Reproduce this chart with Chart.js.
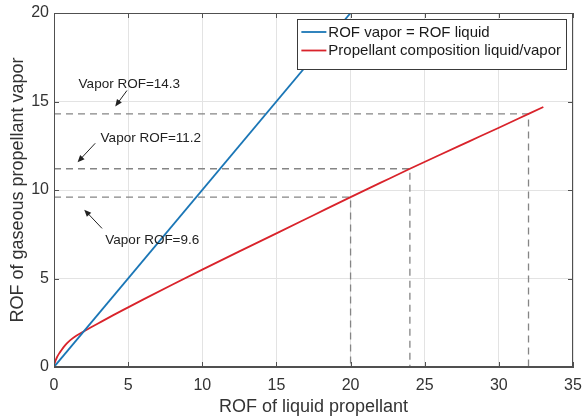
<!DOCTYPE html>
<html>
<head>
<meta charset="utf-8">
<title>ROF liquid vs vapor</title>
<script src="https://cdn.jsdelivr.net/npm/chart.js@4.4.1/dist/chart.umd.min.js"></script>
<style>
  html, body { margin: 0; padding: 0; background: #fff; }
  #rofChart { display: block; }
</style>
</head>
<body>
<canvas id="rofChart" width="582" height="420"></canvas>
<script>
// --- data ---
const equalLiquid = [0, 20];
const equalVapor = [0, 20];

const compLiquid = [0, 0.05, 0.1, 0.2, 0.35, 0.5, 0.65, 0.85, 1.1, 1.5, 2, 2.5, 3, 4, 5, 6, 8, 10, 12.5, 15, 17.5, 20, 22, 24, 26, 28, 30, 32, 33];
const compVapor  = [0, 0.22, 0.35, 0.55, 0.77, 0.95, 1.12, 1.32, 1.52, 1.77, 2.01, 2.245, 2.475, 2.93, 3.37, 3.805, 4.66, 5.5, 6.53, 7.55, 8.575, 9.6, 10.4, 11.2, 11.98, 12.75, 13.52, 14.3, 14.69];

// operating points picked off the red curve
const markedLiquid = [20, 24, 32];
const markedVapor = [9.6, 11.2, 14.3];

const xTicks = [0, 5, 10, 15, 20, 25, 30, 35];
const yTicks = [0, 5, 10, 15, 20];

const legendLabels = ['ROF vapor = ROF liquid', 'Propellant composition liquid/vapor'];

// callouts: text anchor (data coords) and arrow tail -> head
const callouts = [
    { text: 'Vapor ROF=14.3', at: [5.08, 15.99], from: [4.92, 15.62], to: [4.13, 14.72] },
    { text: 'Vapor ROF=11.2', at: [6.53, 12.94], from: [2.78, 12.64], to: [1.59, 11.57] },
    { text: 'Vapor ROF=9.6',  at: [6.63, 7.17],  from: [3.24, 7.83],  to: [2.04, 8.89] }
];

const BLUE = '#1a76b6';
const RED = '#d9232b';
const DASH = '#858585';
const FONT = '"Liberation Sans", Arial, Helvetica, sans-serif';

const toPoints = (xs, ys) => xs.map((x, i) => ({ x, y: ys[i] }));

// dashed guide: from y axis across to the point, then down to the x axis
const guideSets = markedLiquid.map((lx, i) => ({
    data: [{ x: 0, y: markedVapor[i] }, { x: lx, y: markedVapor[i] }, { x: lx, y: 0 }],
    borderColor: DASH,
    borderWidth: 1.3,
    borderDash: [7, 5],
    pointRadius: 0,
    showLine: true,
    tension: 0
}));

// frame on all four sides plus MATLAB-style inward ticks
const framePlugin = {
    id: 'frame',
    afterDatasetsDraw(chart) {
        const { ctx, chartArea: a, scales } = chart;
        ctx.save();
        ctx.strokeStyle = '#505050';
        ctx.lineWidth = 1;
        ctx.strokeRect(a.left + 0.5, a.top + 0.5, a.right - a.left - 1, a.bottom - a.top - 1);
        const len = 5;
        ctx.beginPath();
        xTicks.forEach(v => {
            const px = Math.round(scales.x.getPixelForValue(v)) + 0.5;
            ctx.moveTo(px, a.bottom); ctx.lineTo(px, a.bottom - len);
            ctx.moveTo(px, a.top); ctx.lineTo(px, a.top + len);
        });
        yTicks.forEach(v => {
            const py = Math.round(scales.y.getPixelForValue(v)) + 0.5;
            ctx.moveTo(a.left, py); ctx.lineTo(a.left + len, py);
            ctx.moveTo(a.right, py); ctx.lineTo(a.right - len, py);
        });
        ctx.stroke();
        ctx.restore();
    }
};

const calloutPlugin = {
    id: 'callouts',
    afterDatasetsDraw(chart) {
        const { ctx, scales: { x, y } } = chart;
        const px = p => [x.getPixelForValue(p[0]), y.getPixelForValue(p[1])];
        ctx.save();
        ctx.font = '13.5px ' + FONT;
        ctx.fillStyle = '#222';
        ctx.textAlign = 'center';
        ctx.textBaseline = 'middle';
        ctx.strokeStyle = '#222';
        ctx.lineWidth = 1;
        callouts.forEach(c => {
            const [tx, ty] = px(c.at);
            ctx.fillText(c.text, tx, ty);
            const [x0, y0] = px(c.from);
            const [x1, y1] = px(c.to);
            const ang = Math.atan2(y1 - y0, x1 - x0);
            ctx.beginPath();
            ctx.moveTo(x0, y0);
            ctx.lineTo(x1 - 4 * Math.cos(ang), y1 - 4 * Math.sin(ang));
            ctx.stroke();
            // arrow head
            ctx.beginPath();
            ctx.moveTo(x1, y1);
            ctx.lineTo(x1 - 7 * Math.cos(ang) + 3 * Math.sin(ang), y1 - 7 * Math.sin(ang) - 3 * Math.cos(ang));
            ctx.lineTo(x1 - 7 * Math.cos(ang) - 3 * Math.sin(ang), y1 - 7 * Math.sin(ang) + 3 * Math.cos(ang));
            ctx.closePath();
            ctx.fill();
        });
        ctx.restore();
    }
};

// boxed legend in the top-right corner of the plot
const legendPlugin = {
    id: 'boxLegend',
    afterDraw(chart) {
        const { ctx, chartArea: a } = chart;
        const colors = [BLUE, RED];
        ctx.save();
        ctx.font = '15px ' + FONT;
        const textW = Math.max(...legendLabels.map(t => ctx.measureText(t).width));
        const w = 31 + textW + 5;
        const h = 50;
        const right = a.right - 7;
        const top = a.top + 6;
        const left = right - w;
        ctx.fillStyle = '#fff';
        ctx.fillRect(left, top, w, h);
        ctx.strokeStyle = '#3a3a3a';
        ctx.lineWidth = 1;
        ctx.strokeRect(Math.round(left) + 0.5, top + 0.5, Math.round(w), h);
        ctx.textBaseline = 'middle';
        ctx.textAlign = 'left';
        legendLabels.forEach((label, i) => {
            const rowY = top + 13 + i * 18.5;
            ctx.strokeStyle = colors[i];
            ctx.lineWidth = 1.8;
            ctx.beginPath();
            ctx.moveTo(left + 4, rowY);
            ctx.lineTo(left + 29, rowY);
            ctx.stroke();
            ctx.fillStyle = '#1a1a1a';
            ctx.fillText(label, left + 31, rowY + 0.5);
        });
        ctx.restore();
    }
};

new Chart(document.getElementById('rofChart'), {
    type: 'scatter',
    data: {
        datasets: [
            {
                label: legendLabels[0],
                data: toPoints(equalLiquid, equalVapor),
                borderColor: BLUE,
                borderWidth: 1.8,
                pointRadius: 0,
                showLine: true
            },
            {
                label: legendLabels[1],
                data: toPoints(compLiquid, compVapor),
                borderColor: RED,
                borderWidth: 1.8,
                pointRadius: 0,
                showLine: true,
                cubicInterpolationMode: 'monotone'
            },
            ...guideSets
        ]
    },
    options: {
        responsive: false,
        animation: false,
        events: [],
        layout: { padding: { left: 0, top: 13, right: 9, bottom: 0 } },
        plugins: {
            legend: { display: false },
            tooltip: { enabled: false }
        },
        scales: {
            x: {
                type: 'linear',
                min: 0,
                max: 35,
                afterFit(scale) {
                    scale.height = 53;
                    scale.paddingLeft = 0;
                    scale.paddingRight = 0;
                },
                afterBuildTicks(scale) { scale.ticks = xTicks.map(v => ({ value: v })); },
                grid: { color: '#e3e3e3', drawTicks: false },
                border: { color: '#505050' },
                ticks: { padding: 9, color: '#333', font: { family: FONT, size: 16 }, autoSkip: false, maxRotation: 0 },
                title: { display: true, text: 'ROF of liquid propellant', color: '#333', font: { family: FONT, size: 18 }, padding: { top: 0, bottom: 2 } }
            },
            y: {
                type: 'linear',
                min: 0,
                max: 20,
                afterFit(scale) {
                    scale.width = 54;
                    scale.paddingTop = 0;
                    scale.paddingBottom = 0;
                },
                afterBuildTicks(scale) { scale.ticks = yTicks.map(v => ({ value: v })); },
                grid: { color: '#e3e3e3', drawTicks: false },
                border: { color: '#505050' },
                ticks: { padding: 5, color: '#333', font: { family: FONT, size: 16 } },
                title: { display: true, text: 'ROF of gaseous propellant vapor', color: '#333', font: { family: FONT, size: 18 }, padding: { top: 7, bottom: 0 } }
            }
        }
    },
    plugins: [framePlugin, calloutPlugin, legendPlugin]
});
</script>
</body>
</html>
